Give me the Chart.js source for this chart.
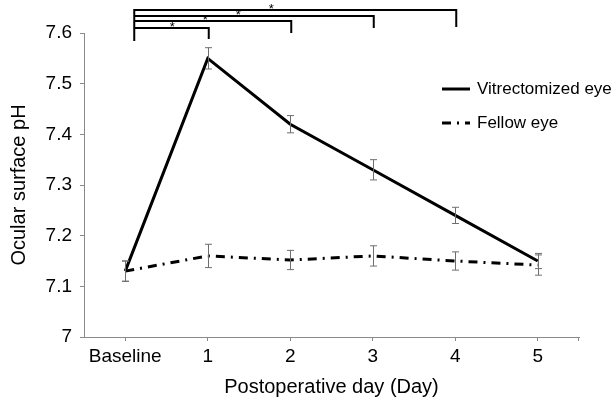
<!DOCTYPE html>
<html>
<head>
<meta charset="utf-8">
<script src="https://cdn.jsdelivr.net/npm/chart.js@4/dist/chart.umd.min.js"></script>
<style>
  html, body { margin: 0; padding: 0; background: #fff; }
  #wrap { width: 613px; height: 403px; }
</style>
</head>
<body>
<div id="wrap"><canvas id="canvas" width="613" height="403"></canvas></div>
<script>
var days = ["Baseline", "1", "2", "3", "4", "5"];
var vitrectomized = [7.13, 7.55, 7.42, 7.33, 7.24, 7.15];
var vitrectomizedErr = [0.02, 0.021, 0.017, 0.02, 0.016, 0.015];
var fellow = [7.13, 7.16, 7.152, 7.16, 7.15, 7.142];
var fellowErr = [0.02, 0.023, 0.019, 0.02, 0.018, 0.02];
var yTicks = [7, 7.1, 7.2, 7.3, 7.4, 7.5, 7.6];
// significance brackets: Baseline vs day n
var sigTo = [1, 2, 3, 4];
var sigMark = ["*", "*", "*", "*"];

var axisGray = "#8a8a8a";
var font = "'Liberation Sans', Arial, sans-serif";

var extrasPlugin = {
    id: 'extras',
    afterDatasetsDraw: function(chart) {
        var ctx = chart.ctx;
        var xs = chart.scales.x, ys = chart.scales.y;
        var area = chart.chartArea;
        ctx.save();

        // error bars
        ctx.strokeStyle = "#6e6e6e";
        ctx.lineWidth = 1;
        var sets = [[vitrectomized, vitrectomizedErr], [fellow, fellowErr]];
        sets.forEach(function(s) {
            s[0].forEach(function(v, i) {
                var x = Math.round(xs.getPixelForValue(i)) + 0.5;
                var y1 = ys.getPixelForValue(v + s[1][i]);
                var y2 = ys.getPixelForValue(v - s[1][i]);
                ctx.beginPath();
                ctx.moveTo(x, y1); ctx.lineTo(x, y2);
                ctx.moveTo(x - 3.5, y1); ctx.lineTo(x + 3.5, y1);
                ctx.moveTo(x - 3.5, y2); ctx.lineTo(x + 3.5, y2);
                ctx.stroke();
            });
        });

        // end tick of x axis
        ctx.strokeStyle = axisGray;
        ctx.beginPath();
        ctx.moveTo(area.right - 0.5, area.bottom);
        ctx.lineTo(area.right - 0.5, area.bottom + 4);
        ctx.stroke();

        // significance brackets
        var barY = [28, 21, 16, 10];
        var dropY = [39, 33, 28, 27];
        var left = xs.getPixelForValue(0) + 9;
        ctx.strokeStyle = "#000";
        ctx.lineWidth = 2;
        ctx.beginPath();
        ctx.moveTo(left, barY[barY.length - 1] - 1);
        ctx.lineTo(left, 41);
        sigTo.forEach(function(t, i) {
            var right = xs.getPixelForValue(t) + 1;
            ctx.moveTo(left, barY[i]);
            ctx.lineTo(right, barY[i]);
            ctx.lineTo(right, dropY[i]);
        });
        ctx.stroke();
        ctx.fillStyle = "#000";
        ctx.font = "13px " + font;
        ctx.textAlign = "center";
        ctx.textBaseline = "middle";
        sigMark.forEach(function(m, i) {
            ctx.fillText(m, left + 38 + 33 * i, barY[i] - 1);
        });

        // legend
        var lx = area.right - 137;
        var ly = [area.top + 56, area.top + 90];
        chart.data.datasets.forEach(function(ds, i) {
            ctx.strokeStyle = ds.borderColor;
            ctx.lineWidth = ds.borderWidth;
            ctx.setLineDash(ds.borderDash || []);
            ctx.beginPath();
            ctx.moveTo(lx, ly[i]);
            ctx.lineTo(lx + 28, ly[i]);
            ctx.stroke();
            ctx.setLineDash([]);
            ctx.font = "17px " + font;
            ctx.textAlign = "left";
            ctx.fillText(ds.label, lx + 35, ly[i]);
        });
        ctx.restore();
    }
};

var ctx = document.getElementById("canvas").getContext("2d");
var myChart = new Chart(ctx, {
    type: 'line',
    data: {
        labels: days,
        datasets: [{
            label: 'Vitrectomized eye',
            data: vitrectomized,
            borderColor: '#000',
            borderWidth: 3,
            pointRadius: 0,
            tension: 0
        }, {
            label: 'Fellow eye',
            data: fellow,
            borderColor: '#000',
            borderWidth: 3,
            borderDash: [9, 6, 2, 6],
            pointRadius: 0,
            tension: 0
        }]
    },
    options: {
        responsive: false,
        animation: false,
        layout: { padding: { top: 33, right: 34, left: 0, bottom: 0 } },
        plugins: { legend: { display: false }, tooltip: { enabled: false } },
        scales: {
            x: {
                offset: true,
                grid: { display: true, drawOnChartArea: false, offset: false, color: axisGray, tickLength: 4 },
                border: { color: axisGray },
                ticks: { color: '#000', font: { family: font, size: 19 }, padding: 4, maxRotation: 0 },
                title: { display: true, text: 'Postoperative day (Day)', color: '#000', font: { family: font, size: 20 }, padding: { top: 0, bottom: 4 } },
                afterFit: function(s) { s.height = 66; }
            },
            y: {
                min: 7,
                max: 7.6,
                grid: { display: true, drawOnChartArea: false, color: axisGray, tickLength: 4 },
                border: { color: axisGray },
                afterBuildTicks: function(s) { s.ticks = yTicks.map(function(v) { return { value: v }; }); },
                ticks: {
                    color: '#000',
                    font: { family: font, size: 19 },
                    padding: 8,
                    callback: function(v) { return String(Number(v.toFixed(1))); }
                },
                title: { display: true, text: 'Ocular surface pH', color: '#000', font: { family: font, size: 20 }, padding: { top: 7, bottom: 0 } },
                afterFit: function(s) { s.width = 84; }
            }
        }
    },
    plugins: [extrasPlugin]
});
</script>
</body>
</html>
